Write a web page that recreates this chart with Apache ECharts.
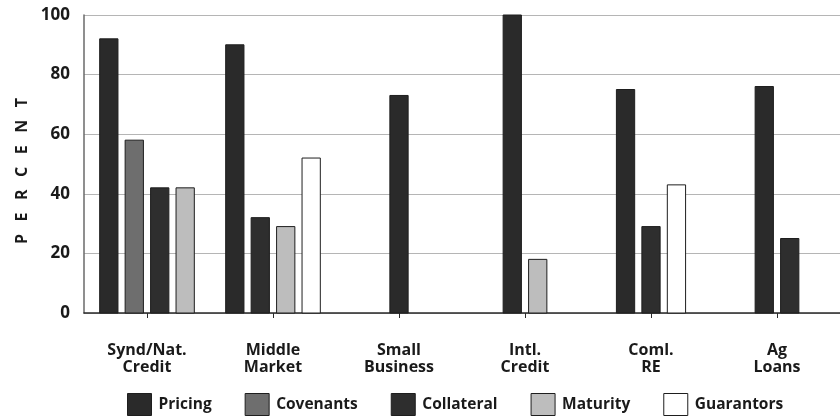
<!DOCTYPE html>
<html>
<head>
<meta charset="utf-8">
<script src="https://cdn.jsdelivr.net/npm/echarts@6/dist/echarts.min.js"></script>
<style>html,body{margin:0;padding:0;background:#fff}#c{width:840px;height:419px}</style>
</head>
<body>
<div id="c"></div>
<script>
const categories = ['Synd/Nat.\nCredit', 'Middle\nMarket', 'Small\nBusiness', 'Intl.\nCredit', 'Coml.\nRE', 'Ag\nLoans'];
const seriesNames = ['Pricing', 'Covenants', 'Collateral', 'Maturity', 'Guarantors'];
const pricing    = [92, 90, 73, 100, 75, 76];
const covenants  = [58, null, null, null, null, null];
const collateral = [42, 32, null, null, 29, 25];
const maturity   = [42, 29, null, 18, null, null];
const guarantors = [null, 52, null, null, 43, null];
const yTicks = [0, 20, 40, 60, 80, 100];

const allValues = [pricing, covenants, collateral, maturity, guarantors];
const colors = ['#2a2a2a', '#6e6e6e', '#2e2e2e', '#bdbdbd', '#ffffff'];
const FONT = 'Open Sans';

function makeRender(sIdx) {
  return function (params, api) {
    const ci = api.value(0);
    const v = api.value(1);
    const present = [];
    allValues.forEach((arr, i) => { if (arr[ci] != null) present.push(i); });
    const k = present.indexOf(sIdx);
    const n = present.length;
    const band = api.size([1, 0])[0];
    const pitch = band * 0.202;
    const w = band * 0.145;
    const top = api.coord([ci, v]);
    const base = api.coord([ci, 0]);
    const cx = top[0] + (k - (n - 1) / 2) * pitch;
    return {
      type: 'rect',
      shape: { x: cx - w / 2, y: top[1], width: w, height: base[1] - top[1] },
      style: { fill: colors[sIdx], stroke: '#1e1e1e', lineWidth: 1 }
    };
  };
}

const series = seriesNames.map((name, si) => ({
  name: name,
  type: 'custom',
  renderItem: makeRender(si),
  itemStyle: { color: colors[si], borderColor: '#1e1e1e', borderWidth: 1 },
  encode: { x: 0, y: 1 },
  data: allValues[si].map((v, ci) => v == null ? null : [ci, v]).filter(d => d)
}));

const chart = echarts.init(document.getElementById('c'), null, { renderer: 'canvas' });
chart.setOption({
  animation: false,
  backgroundColor: '#ffffff',
  grid: { left: 84, right: 0, top: 15, bottom: 106 },
  xAxis: {
    type: 'category',
    data: categories,
    axisLine: { show: true, lineStyle: { color: '#2a2a2a', width: 1.5 } },
    axisTick: { show: true, alignWithLabel: true, length: 5, lineStyle: { color: '#2a2a2a' } },
    axisLabel: { margin: 29, fontFamily: FONT, fontWeight: 'bold', fontSize: 16, color: '#1a1a1a', lineHeight: 17 }
  },
  yAxis: {
    type: 'value',
    min: 0, max: 100, interval: 20,
    name: 'P   E   R   C   E   N   T',
    nameLocation: 'middle',
    nameRotate: 90,
    nameGap: 45,
    nameTextStyle: { fontFamily: FONT, fontWeight: 'bold', fontSize: 16, color: '#1a1a1a', padding: [0, 14, 0, 0] },
    axisLine: { show: true, lineStyle: { color: '#6a6a6a', width: 1.5 } },
    axisTick: { show: false },
    axisLabel: {
      margin: 14, fontFamily: FONT, fontWeight: 'bold', fontSize: 17, color: '#1a1a1a',
      formatter: v => yTicks.indexOf(v) >= 0 ? String(v) : ''
    },
    splitLine: { show: true, lineStyle: { color: '#b5b5b5', width: 1 } }
  },
  legend: {
    left: 122,
    top: 388,
    icon: 'rect',
    itemWidth: 24,
    itemHeight: 22,
    itemGap: 33,
    textStyle: { fontFamily: FONT, fontWeight: 'bold', fontSize: 15.5, color: '#1a1a1a', padding: [0, 0, 0, 2] },
    data: seriesNames.map((n, i) => ({
      name: n,
      itemStyle: { color: colors[i], borderColor: '#1e1e1e', borderWidth: 1 }
    }))
  },
  series: series
});
</script>
</body>
</html>
